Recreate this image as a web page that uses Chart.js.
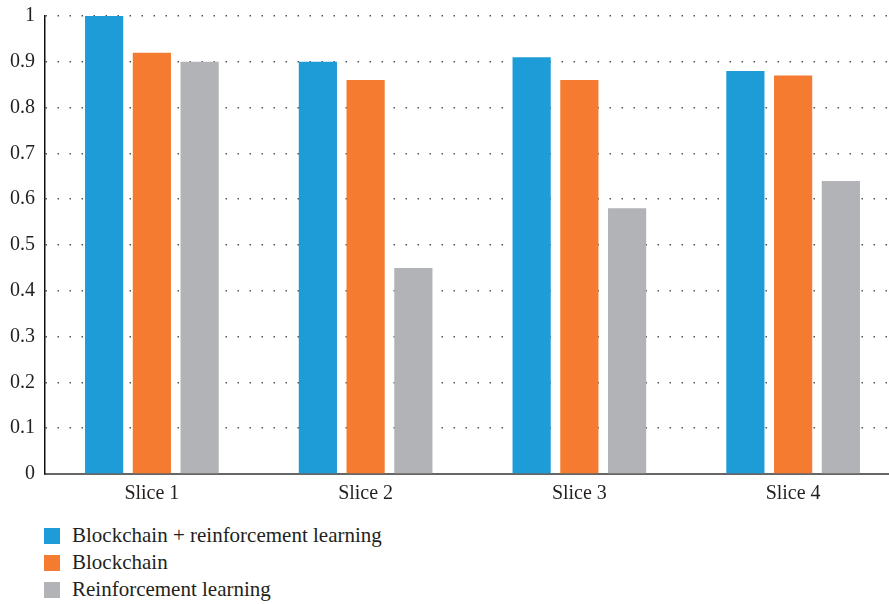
<!DOCTYPE html>
<html>
<head>
<meta charset="utf-8">
<script src="https://cdn.jsdelivr.net/npm/chart.js@4/dist/chart.umd.min.js"></script>
<style>
  html, body { margin: 0; padding: 0; background: #fff; overflow: hidden; }
  #wrap { position: relative; width: 900px; height: 516px; margin-top: -6px; }
  #legend { position: absolute; left: 44px; top: 522px; font-family: 'Liberation Serif', 'DejaVu Serif', serif; font-size: 21px; color: #231f20; }
  #legend div { height: 27px; display: flex; align-items: center; }
  #legend span.box { display: inline-block; width: 16px; height: 16px; margin-right: 12px; }
</style>
</head>
<body>
<div id="wrap"><canvas id="chart"></canvas></div>
<div id="legend"></div>
<script>
const categories = ['Slice 1', 'Slice 2', 'Slice 3', 'Slice 4'];
const seriesNames = ['Blockchain + reinforcement learning', 'Blockchain', 'Reinforcement learning'];
const hybridValues = [1.0, 0.90, 0.91, 0.88];
const blockchainValues = [0.92, 0.86, 0.86, 0.87];
const rlValues = [0.90, 0.45, 0.58, 0.64];
const seriesColors = ['#1e9cd7', '#f47b30', '#b2b3b6'];

const fontFamily = "'Liberation Serif', 'DejaVu Serif', serif";

const datasets = [hybridValues, blockchainValues, rlValues].map((vals, i) => ({
  label: seriesNames[i],
  data: vals,
  backgroundColor: seriesColors[i],
  categoryPercentage: 0.67,
  barPercentage: 0.8
}));

new Chart(document.getElementById('chart').getContext('2d'), {
  type: 'bar',
  data: { labels: categories, datasets: datasets },
  options: {
    responsive: true,
    maintainAspectRatio: false,
    animation: false,
    layout: { padding: 0 },
    plugins: { legend: { display: false }, tooltip: { enabled: false } },
    scales: {
      x: {
        grid: { display: false },
        border: { color: '#666', width: 2 },
        ticks: { color: '#231f20', font: { family: fontFamily, size: 20 }, padding: 0 },
        afterFit: (s) => { s.height = 36; }
      },
      y: {
        min: 0,
        max: 1,
        grid: { color: '#555', lineWidth: 1.5, drawTicks: false },
        border: { color: '#111', width: 1.5, dash: [1.5, 10.5] },
        ticks: {
          stepSize: 0.1,
          padding: 10,
          color: '#231f20',
          font: { family: fontFamily, size: 20 },
          callback: (v) => String(Math.round(v * 10) / 10)
        },
        afterFit: (s) => { s.width = 45; }
      }
    }
  }
});

// legend, stacked vertically under the plot
const legendEl = document.getElementById('legend');
seriesNames.forEach((name, i) => {
  const row = document.createElement('div');
  row.innerHTML = `<span class="box" style="background:${seriesColors[i]}"></span>${name}`;
  legendEl.appendChild(row);
});
</script>
</body>
</html>
